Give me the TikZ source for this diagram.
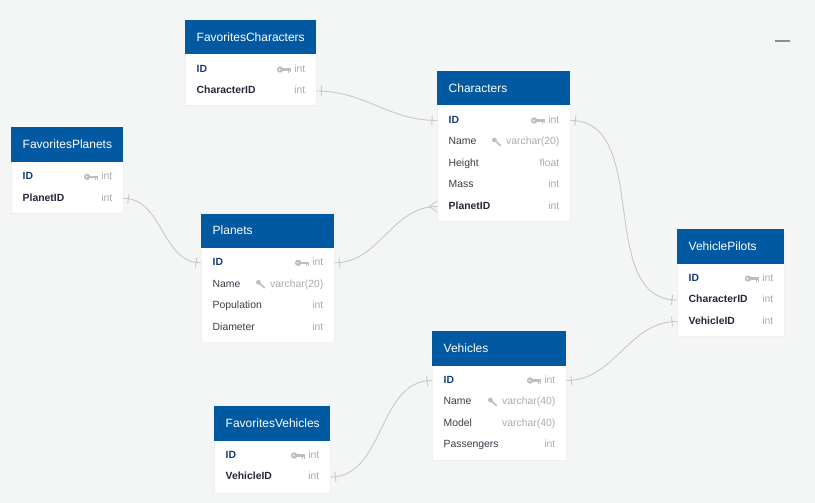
\documentclass[tikz,border=0pt]{standalone}
\usepackage{fontspec}
\setmainfont{Liberation Sans}
\usetikzlibrary{decorations.markings}
\definecolor{hdrblue}{RGB}{1,89,161}
\definecolor{bgc}{RGB}{244,245,245}
\definecolor{pkc}{RGB}{22,60,118}
\definecolor{fkc}{RGB}{36,40,56}
\definecolor{fldc}{RGB}{58,60,70}
\definecolor{typc}{RGB}{170,170,174}
\definecolor{iconc}{RGB}{190,190,194}
\definecolor{linkc}{RGB}{200,200,202}
\definecolor{minusc}{RGB}{140,142,150}

\begin{document}
\begin{tikzpicture}[x=1pt, y=-1pt,
  tbl/.style={anchor=north west, fill=white, draw=gray!12, inner sep=0pt},
  hdr/.style={anchor=north west, fill=hdrblue, text=white, minimum height=34.3pt,
    inner xsep=11.5pt, inner ysep=0pt, align=left, font=\fontsize{12}{14}\selectfont},
  fld/.style={anchor=west, inner sep=0pt, text height=7.6pt, text depth=2.2pt,
    text=fldc, font=\fontsize{10.4}{12}\selectfont},
  pk/.style={fld, text=pkc, font=\fontsize{10.4}{12}\selectfont\bfseries},
  fk/.style={pk, text=fkc},
  typ/.style={anchor=east, inner sep=0pt, text height=7.6pt, text depth=2.2pt,
    text=typc, font=\fontsize{10.4}{12}\selectfont},
  link/.style={draw=linkc, line width=0.9pt},
  one2one/.style={postaction={decorate}, decoration={markings,
    mark=at position 5pt with {\draw[linkc, line width=0.9pt] (0pt,-5pt) -- (0pt,5pt);},
    mark=at position -5pt with {\draw[linkc, line width=0.9pt] (0pt,-5pt) -- (0pt,5pt);}}},
  one2many/.style={postaction={decorate}, decoration={markings,
    mark=at position 5pt with {\draw[linkc, line width=0.9pt] (0pt,-5pt) -- (0pt,5pt);}}},
  keyic/.pic={\fill[iconc] (-14,0) circle (3.2pt); \fill[white] (-14.5,0) circle (0.9pt);
    \fill[iconc] (-12,-1.2) rectangle (-3,1.2);
    \fill[iconc] (-6.6,1) rectangle (-5.3,3.4); \fill[iconc] (-4.3,1) rectangle (-3,3);},
  idxic/.pic={\fill[iconc] (-11.5,-2) circle (2.4pt);
    \draw[iconc, line width=1.6pt, line cap=round] (-10.5,-1) -- (-5.5,3.5);}]
  \fill[bgc] (0,0) rectangle (815,503);
  \draw[minusc, line width=2pt] (775,41) -- (790,41);

  % FavoritesCharacters
  \node[tbl, minimum width=131pt, minimum height=85pt] (favc) at (185,20) {};
  \node[hdr, text width=108pt] (favc-h) at (185,20) {FavoritesCharacters};
  \foreach \s/\f/\t [count=\i] in {pk/ID/int, fk/CharacterID/int} {
    \node[\s] (favc-\i) at (196.5,48+21.5*\i) {\f};
    \node[typ] (favc-t\i) at (305.5,48+21.5*\i) {\t};
  }
  \pic at (favc-t1.west) {keyic};

  % Characters
  \node[tbl, minimum width=133pt, minimum height=150pt] (chars) at (437,71) {};
  \node[hdr, text width=110pt] (chars-h) at (437,71) {Characters};
  \foreach \s/\f/\t [count=\i] in {pk/ID/int, fld/Name/varchar(20), fld/Height/float, fld/Mass/int, fk/PlanetID/int} {
    \node[\s] (chars-\i) at (448.5,99+21.5*\i) {\f};
    \node[typ] (chars-t\i) at (559.5,99+21.5*\i) {\t};
  }
  \pic at (chars-t1.west) {keyic};
  \pic at (chars-t2.west) {idxic};

  % FavoritesPlanets
  \node[tbl, minimum width=112pt, minimum height=85.5pt] (favp) at (11,127.3) {};
  \node[hdr, text width=89pt] (favp-h) at (11,127.3) {FavoritesPlanets};
  \foreach \s/\f/\t [count=\i] in {pk/ID/int, fk/PlanetID/int} {
    \node[\s] (favp-\i) at (22.5,155.3+21.5*\i) {\f};
    \node[typ] (favp-t\i) at (112.5,155.3+21.5*\i) {\t};
  }
  \pic at (favp-t1.west) {keyic};

  % Planets
  \node[tbl, minimum width=133pt, minimum height=128.5pt] (plan) at (201,213.3) {};
  \node[hdr, text width=110pt] (plan-h) at (201,213.3) {Planets};
  \foreach \s/\f/\t [count=\i] in {pk/ID/int, fld/Name/varchar(20), fld/Population/int, fld/Diameter/int} {
    \node[\s] (plan-\i) at (212.5,241.3+21.5*\i) {\f};
    \node[typ] (plan-t\i) at (323.5,241.3+21.5*\i) {\t};
  }
  \pic at (plan-t1.west) {keyic};
  \pic at (plan-t2.west) {idxic};

  % VehiclePilots
  \node[tbl, minimum width=107pt, minimum height=107pt] (vp) at (677,229) {};
  \node[hdr, text width=84pt] (vp-h) at (677,229) {VehiclePilots};
  \foreach \s/\f/\t [count=\i] in {pk/ID/int, fk/CharacterID/int, fk/VehicleID/int} {
    \node[\s] (vp-\i) at (688.5,257+21.5*\i) {\f};
    \node[typ] (vp-t\i) at (773.5,257+21.5*\i) {\t};
  }
  \pic at (vp-t1.west) {keyic};

  % Vehicles
  \node[tbl, minimum width=134pt, minimum height=128.5pt] (veh) at (432,331) {};
  \node[hdr, text width=111pt] (veh-h) at (432,331) {Vehicles};
  \foreach \s/\f/\t [count=\i] in {pk/ID/int, fld/Name/varchar(40), fld/Model/varchar(40), fld/Passengers/int} {
    \node[\s] (veh-\i) at (443.5,359+21.5*\i) {\f};
    \node[typ] (veh-t\i) at (555.5,359+21.5*\i) {\t};
  }
  \pic at (veh-t1.west) {keyic};
  \pic at (veh-t2.west) {idxic};

  % FavoritesVehicles
  \node[tbl, minimum width=116pt, minimum height=87pt] (favv) at (214,406) {};
  \node[hdr, text width=93pt] (favv-h) at (214,406) {FavoritesVehicles};
  \foreach \s/\f/\t [count=\i] in {pk/ID/int, fk/VehicleID/int} {
    \node[\s] (favv-\i) at (225.5,434+21.5*\i) {\f};
    \node[typ] (favv-t\i) at (319.5,434+21.5*\i) {\t};
  }
  \pic at (favv-t1.west) {keyic};

  % relations
  \coordinate (pid) at (chars.west |- chars-5);
  \draw[link, one2one] (favc.east |- favc-2) to[out=0, in=180] (chars.west |- chars-1);
  \draw[link, one2one] (favp.east |- favp-2) to[out=0, in=180] (plan.west |- plan-1);
  \draw[link, one2many] (plan.east |- plan-1) to[out=0, in=180] (pid);
  \draw[link] ([yshift=5.5pt]pid) -- ([xshift=-7.5pt]pid) -- ([yshift=-5.5pt]pid);
  \draw[link, one2one] (chars.east |- chars-1) to[out=0, in=180] (vp.west |- vp-2);
  \draw[link, one2one] (veh.east |- veh-1) to[out=0, in=180] (vp.west |- vp-3);
  \draw[link, one2one] (favv.east |- favv-2) to[out=0, in=180] (veh.west |- veh-1);
\end{tikzpicture}
\end{document}
